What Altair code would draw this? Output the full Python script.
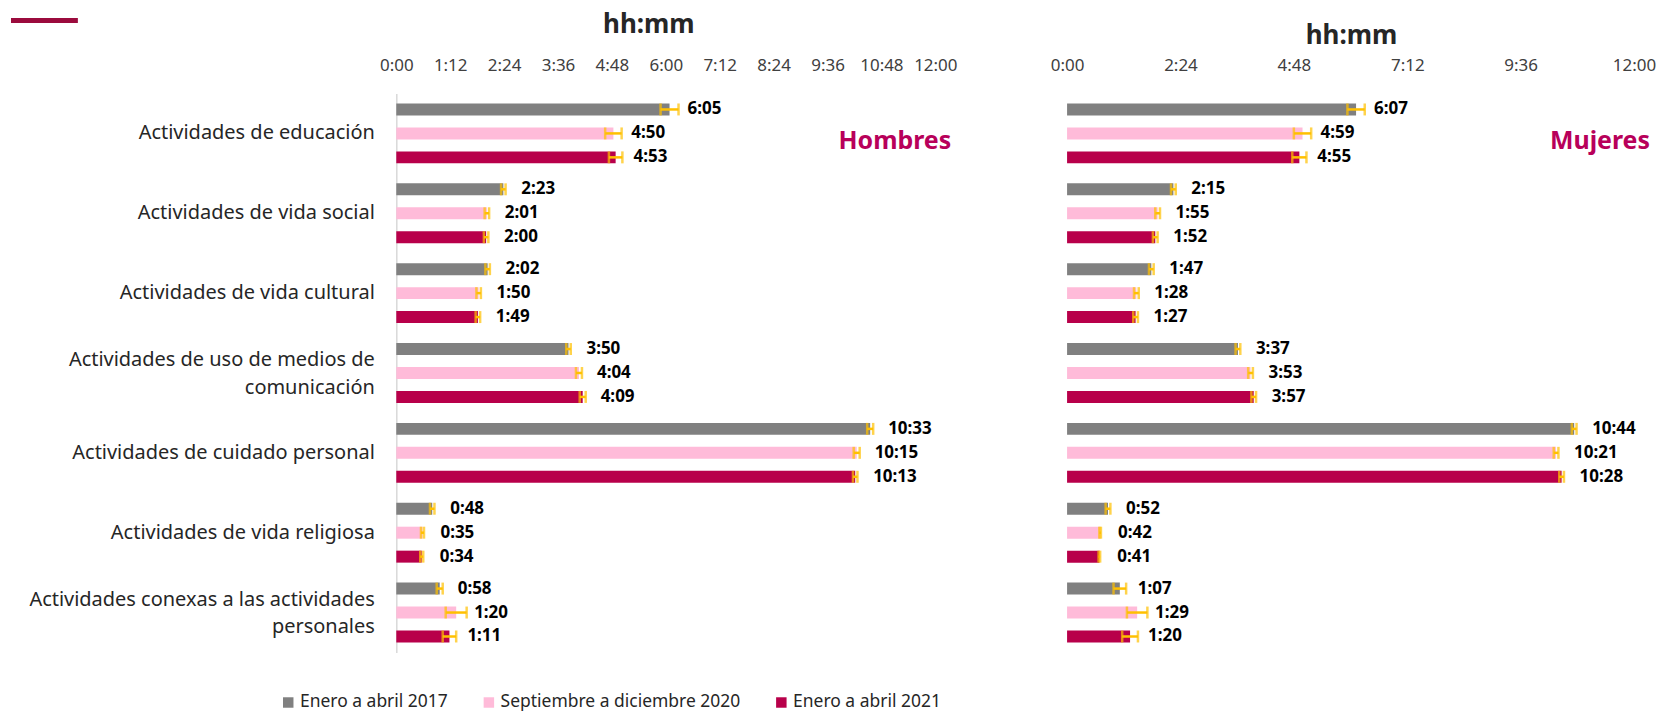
import altair as alt
import pandas as pd

categories = [
    "Actividades de educación",
    "Actividades de vida social",
    "Actividades de vida cultural",
    "Actividades de uso de medios de|comunicación",
    "Actividades de cuidado personal",
    "Actividades de vida religiosa",
    "Actividades conexas a las actividades|personales",
]
series = ["Enero a abril 2017", "Septiembre a diciembre 2020", "Enero a abril 2021"]
colors = ["#808080", "#FFBBD9", "#B8004A"]

hombres_2017 = ["6:05", "2:23", "2:02", "3:50", "10:33", "0:48", "0:58"]
hombres_2020 = ["4:50", "2:01", "1:50", "4:04", "10:15", "0:35", "1:20"]
hombres_2021 = ["4:53", "2:00", "1:49", "4:09", "10:13", "0:34", "1:11"]
hombres_err_2017 = [12, 3, 3, 3, 4, 3, 4]
hombres_err_2020 = [11, 3, 3, 4, 4, 2, 14]
hombres_err_2021 = [9, 3, 3, 4, 3, 2, 9]

mujeres_2017 = ["6:07", "2:15", "1:47", "3:37", "10:44", "0:52", "1:07"]
mujeres_2020 = ["4:59", "1:55", "1:28", "3:53", "10:21", "0:42", "1:29"]
mujeres_2021 = ["4:55", "1:52", "1:27", "3:57", "10:28", "0:41", "1:20"]
mujeres_err_2017 = [11, 3, 3, 3, 3, 3, 8]
mujeres_err_2020 = [11, 3, 3, 3, 3, 1, 13]
mujeres_err_2021 = [9, 3, 3, 3, 3, 1, 10]

ticks_h = [0, 72, 144, 216, 288, 360, 432, 504, 576, 648, 720]
ticks_m = [0, 144, 288, 432, 576, 720]

FONT = "Noto Sans"


def to_min(s):
    h, m = s.split(":")
    return int(h) * 60 + int(m)


def build(vals, errs):
    rows = []
    for sname, v, e in zip(series, vals, errs):
        for cat, lab, err in zip(categories, v, e):
            mm = to_min(lab)
            rows.append({"cat": cat, "serie": sname, "min": mm, "lab": lab,
                         "lo": mm - err, "hi": mm + err})
    return pd.DataFrame(rows)


df_h = build([hombres_2017, hombres_2020, hombres_2021],
             [hombres_err_2017, hombres_err_2020, hombres_err_2021])
df_m = build([mujeres_2017, mujeres_2020, mujeres_2021],
             [mujeres_err_2017, mujeres_err_2020, mujeres_err_2021])

label_expr = "floor(datum.value/60) + ':' + (datum.value % 60 < 10 ? '0' : '') + (datum.value % 60)"


def panel(df, width, ticks, show_y, head_x, head_y, name, name_x, extra=None):
    if show_y:
        yaxis = alt.Axis(title=None, orient="left", ticks=False, domain=True,
                         domainColor="#D9D9D9", domainWidth=1.5,
                         labelFont=FONT, labelFontSize=20, labelColor="#262626",
                         labelPadding=22, labelLimit=600, labelLineHeight=28,
                         labelOffset={"condition": {"test": "indexof(datum.value, '|') >= 0",
                                                    "value": -13}, "value": 0},
                         labelExpr="split(datum.label, '|')")
    else:
        yaxis = None
    y = alt.Y("cat:N", sort=categories, axis=yaxis,
              scale=alt.Scale(paddingInner=0.1, paddingOuter=0.05))
    yo = alt.YOffset("serie:N", sort=series,
                     scale=alt.Scale(paddingInner=0.5, paddingOuter=0.25))
    base = alt.Chart(df).encode(y=y, yOffset=yo)
    xscale = alt.Scale(domain=[0, 720], nice=False, zero=True)
    bars = base.mark_bar().encode(
        x=alt.X("min:Q", scale=xscale,
                axis=alt.Axis(title=None, orient="top", values=ticks, labelExpr=label_expr,
                              domain=False, ticks=False, tickSize=0, grid=False,
                              labelFont=FONT, labelFontSize=17, labelColor="#404040",
                              labelPadding=19, labelOverlap=False, labelFlush=False)),
        color=alt.Color("serie:N", sort=series,
                        scale=alt.Scale(domain=series, range=colors),
                        legend=alt.Legend(title=None, orient="none", direction="horizontal",
                                          columns=3, legendX=-117, legendY=601,
                                          symbolType="square", symbolSize=110,
                                          symbolStrokeWidth=0, labelOffset=3,
                                          columnPadding=32, labelFont=FONT,
                                          labelFontSize=17.5, labelColor="#262626",
                                          labelLimit=500, padding=0)),
    )
    errline = base.mark_rule(color="#FFC000", strokeWidth=2.5).encode(
        x=alt.X("lo:Q", scale=xscale), x2="hi:Q")
    cap_lo = base.mark_tick(color="#FFC000", thickness=2.5, size=12).encode(
        x=alt.X("lo:Q", scale=xscale))
    cap_hi = base.mark_tick(color="#FFC000", thickness=2.5, size=12).encode(
        x=alt.X("hi:Q", scale=xscale))
    labels = base.mark_text(align="left", baseline="middle", dx=18, font=FONT,
                            fontSize=17, fontWeight="bold", color="#000000").encode(
        x=alt.X("min:Q", scale=xscale), text="lab:N")
    head = alt.Chart(pd.DataFrame({"t": ["hh:mm"]})).mark_text(
        font=FONT, fontSize=26, fontWeight="bold", color="#262626",
        align="center", baseline="middle").encode(
        x=alt.value(head_x), y=alt.value(head_y), text="t:N")
    nm = alt.Chart(pd.DataFrame({"t": [name]})).mark_text(
        font=FONT, fontSize=25, fontWeight="bold", color="#B8005A",
        align="right", baseline="middle").encode(
        x=alt.value(name_x), y=alt.value(48), text="t:N")
    layers = [bars, errline, cap_lo, cap_hi, labels, head, nm]
    if extra is not None:
        layers.append(extra)
    return alt.layer(*layers).properties(width=width, height=560)


corner = alt.Chart(pd.DataFrame({"t": [1]})).mark_rule(
    color="#9B0B3D", strokeWidth=5).encode(
    x=alt.value(-386), x2=alt.value(-319), y=alt.value(-73))

left = panel(df_h, 540, ticks_h, True, 253, -69, "Hombres", 556, extra=corner)
right = panel(df_m, 568, ticks_m, False, 285, -58, "Mujeres", 584)

chart = alt.hconcat(left, right, spacing=132, bounds="flush").resolve_scale(
    x="independent", y="independent", color="shared"
).properties(padding={"left": 0, "top": 3, "right": 0, "bottom": 0}).configure_view(stroke=None)

chart.save("out.html", embed_options={"renderer": "svg", "actions": False})
